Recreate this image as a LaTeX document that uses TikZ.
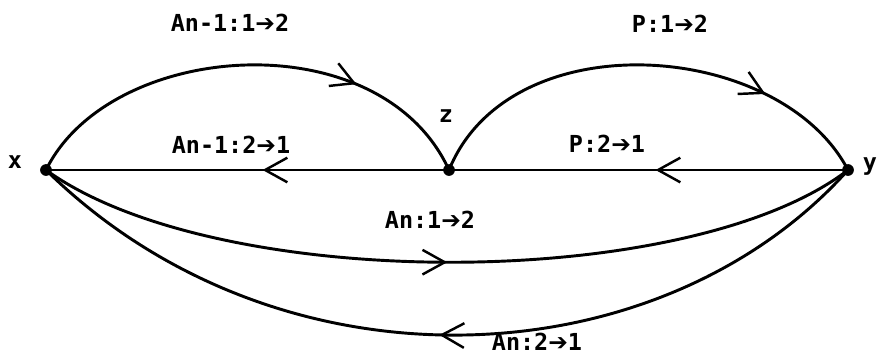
\documentclass[tikz,border=0pt]{standalone}
\usepackage{fontspec}
\setmonofont{DejaVu Sans Mono}
\newfontfamily\arrfont{DejaVu Sans}
\usetikzlibrary{arrows.meta,decorations.markings}

\newcommand{\rarr}{{\arrfont\char"2794}}

\begin{document}
\begin{tikzpicture}[x=0.03cm,y=-0.03cm,line cap=round,line join=round,
  dot/.style={circle,fill,inner sep=0pt,minimum size=10pt},
  lbl/.style={font=\ttfamily\bfseries\fontsize{20}{24}\selectfont,inner sep=0pt},
  hbarb/.tip={Straight Barb[length=19pt,width=21pt,line width=2.1pt]},
  fwd mark/.style={postaction={decorate,decoration={markings,
      mark=at position #1 with {\arrow{hbarb}}}}},
  back mark/.style={postaction={decorate,decoration={markings,
      mark=at position #1 with {\arrowreversed{hbarb}}}}},
  curve/.style={line width=2.5pt},
  chord/.style={line width=1.7pt}]
  \useasboundingbox (0,0) rectangle (878,355);
  \node[dot] (x) at (46,170) {};
  \node[dot] (z) at (449,170) {};
  \node[dot] (y) at (848,170) {};
  \coordinate (xz1) at (110,40);
  \coordinate (xz2) at (380,20);
  \coordinate (zy1) at (510,20);
  \coordinate (zy2) at (780,40);
  \coordinate (lo1) at (216,293);
  \coordinate (lo2) at (688,293);
  \coordinate (bo1) at (280,400);
  \coordinate (bo2) at (660,380);
  \draw[chord,back mark=0.27,back mark=0.76] (x.center) -- (y.center);
  \draw[curve,fwd mark=0.73] (x.center) .. controls (xz1) and (xz2) .. (z.center);
  \draw[curve,fwd mark=0.76] (z.center) .. controls (zy1) and (zy2) .. (y.center);
  \draw[curve,fwd mark=0.5] (x.center) .. controls (lo1) and (lo2) .. (y.center);
  \draw[curve,back mark=0.49] (x.center) .. controls (bo1) and (bo2) .. (y.center);
  \node[lbl] (xl) at (15,162) {x};
  \node[lbl] (zl) at (446,116) {z};
  \node[lbl] (yl) at (870,167) {y};
  \node[lbl] (a1) at (230,23) {An-1:1\rarr2};
  \node[lbl] (p1) at (670,24) {P:1\rarr2};
  \node[lbl] (a2) at (231,145) {An-1:2\rarr1};
  \node[lbl] (p2) at (607,144) {P:2\rarr1};
  \node[lbl] (n1) at (430,220) {An:1\rarr2};
  \node[lbl] (n2) at (537,342) {An:2\rarr1};
\end{tikzpicture}
\end{document}
